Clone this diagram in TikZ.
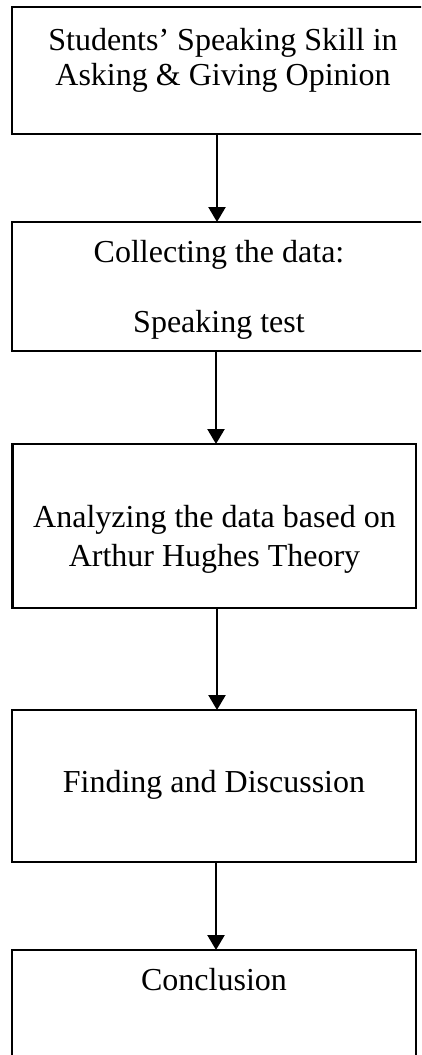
\documentclass[tikz,border=0pt]{standalone}
\usepackage{fontspec}
\setmainfont{Liberation Serif}
\usetikzlibrary{arrows.meta}
\begin{document}
\begin{tikzpicture}[x=1pt,y=-1pt,
  box/.style={draw=black,line width=2.4pt,rectangle,inner sep=0pt,outer sep=0pt},
  txt/.style={anchor=base,inner sep=0pt,font=\fontsize{32}{35}\selectfont},
  arr/.style={line width=2.4pt,-{Triangle[width=17pt,length=15pt]}}]
\useasboundingbox (0,0) rectangle (421,1055);
\clip (0,0) rectangle (421,1055);
\node[box,minimum width=413pt,minimum height=127pt] (b1) at (218.5,70.5) {};
\node[box,minimum width=413pt,minimum height=129pt] (b2) at (218.5,286.5) {};
\node[box,minimum width=403.5pt,minimum height=164pt] (b3) at (214.25,526) {};
\node[box,minimum width=404pt,minimum height=152pt] (b4) at (214,786) {};
\node[box,minimum width=404pt,minimum height=120pt] (b5) at (214,1010) {};
\node[txt] (t1a) at (223,50) {Students’ Speaking Skill in};
\node[txt] (t1b) at (223,85) {Asking \& Giving Opinion};
\node[txt] (t2a) at (219,262) {Collecting the data:};
\node[txt] (t2b) at (219,332) {Speaking test};
\node[txt] (t3a) at (214.5,527) {Analyzing the data based on};
\node[txt] (t3b) at (214.5,566) {Arthur Hughes Theory};
\node[txt] (t4) at (214,792) {Finding and Discussion};
\node[txt] (t5) at (214,990) {Conclusion};
\draw[arr] (b1.south -| 217,0) -- (b2.north -| 217,0);
\draw[arr] (b2.south -| 216,0) -- (b3.north -| 216,0);
\draw[arr] (b3.south -| 217,0) -- (b4.north -| 217,0);
\draw[arr] (b4.south -| 216,0) -- (b5.north -| 216,0);
\end{tikzpicture}
\end{document}
